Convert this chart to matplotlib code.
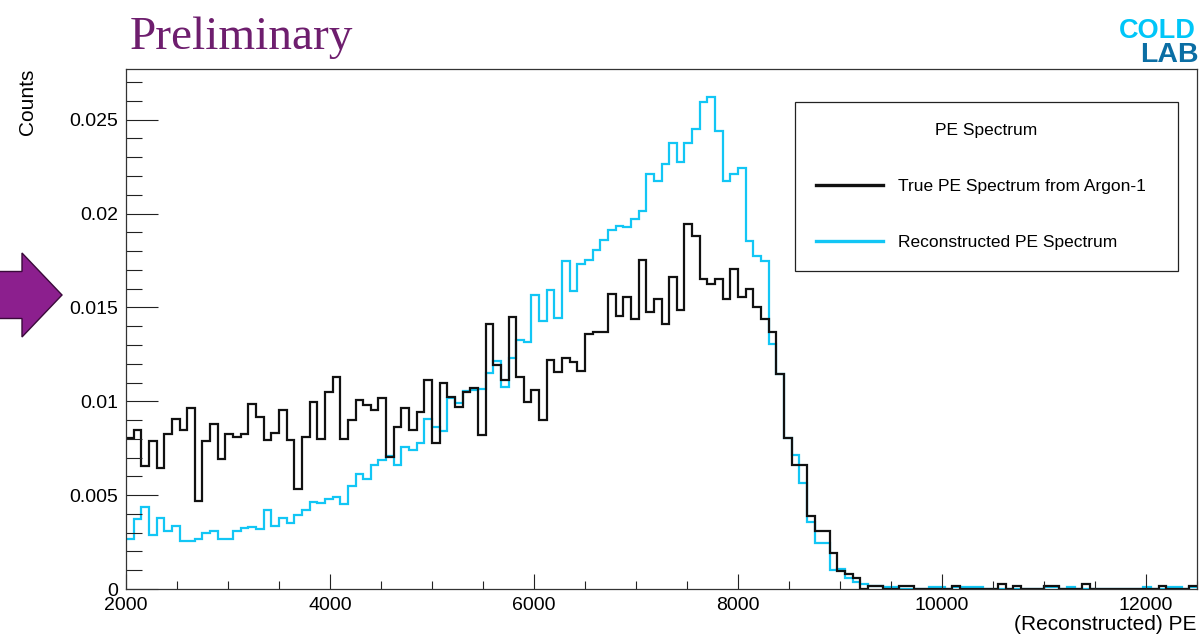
import numpy as np
import matplotlib
matplotlib.use("Agg")
import matplotlib.pyplot as plt
from matplotlib.lines import Line2D
from matplotlib.patches import FancyArrow
from matplotlib.transforms import IdentityTransform
from matplotlib.ticker import MultipleLocator, FuncFormatter

plt.rcParams["font.family"] = ["Liberation Sans", "DejaVu Sans"]

# ---------------------------------------------------------------------------
# data: 140 bins of 75 PE from 2000 to 12500
# ---------------------------------------------------------------------------
bin_lo, bin_hi, bin_w = 2000, 12500, 75

true_pe = [
    0.00803, 0.00849, 0.00655, 0.00786, 0.00646, 0.00825, 0.00904, 0.00849, 0.00962, 0.00467,
    0.00791, 0.00879, 0.00692, 0.00825, 0.00810, 0.00825, 0.00985, 0.00915, 0.00796, 0.00832,
    0.00955, 0.00796, 0.00534, 0.00812, 0.00994, 0.00798, 0.01047, 0.01127, 0.00798, 0.00900,
    0.01008, 0.00980, 0.00954, 0.01017, 0.00702, 0.00865, 0.00966, 0.00848, 0.00945, 0.01113,
    0.00779, 0.01099, 0.01024, 0.00968, 0.01051, 0.01071, 0.00821, 0.01410, 0.01193, 0.01113,
    0.01451, 0.01131, 0.00994, 0.01060, 0.00900, 0.01222, 0.01157, 0.01230, 0.01210, 0.01159,
    0.01360, 0.01369, 0.01369, 0.01571, 0.01452, 0.01557, 0.01437, 0.01755, 0.01478, 0.01543,
    0.01409, 0.01663, 0.01488, 0.01944, 0.01879, 0.01649, 0.01626, 0.01649, 0.01543, 0.01702,
    0.01557, 0.01596, 0.01502, 0.01437, 0.01370, 0.01145, 0.00805, 0.00660, 0.00660, 0.00389,
    0.00309, 0.00309, 0.00191, 0.00094, 0.00080, 0.00057, 0.00000, 0.00015, 0.00015, 0.00000,
    0.00000, 0.00015, 0.00015, 0.00000, 0.00000, 0.00000, 0.00000, 0.00000, 0.00015, 0.00000,
    0.00000, 0.00000, 0.00000, 0.00000, 0.00027, 0.00000, 0.00015, 0.00000, 0.00000, 0.00000,
    0.00015, 0.00015, 0.00000, 0.00000, 0.00000, 0.00027, 0.00000, 0.00000, 0.00000, 0.00000,
    0.00000, 0.00000, 0.00000, 0.00000, 0.00000, 0.00015, 0.00000, 0.00000, 0.00000, 0.00015,
]

reco_pe = [
    0.00269, 0.00375, 0.00437, 0.00287, 0.00379, 0.00311, 0.00333, 0.00257, 0.00257, 0.00269,
    0.00296, 0.00308, 0.00269, 0.00264, 0.00310, 0.00326, 0.00331, 0.00322, 0.00423, 0.00336,
    0.00379, 0.00350, 0.00394, 0.00419, 0.00463, 0.00458, 0.00478, 0.00490, 0.00455, 0.00547,
    0.00614, 0.00584, 0.00663, 0.00688, 0.00711, 0.00663, 0.00759, 0.00738, 0.00777, 0.00906,
    0.00865, 0.00844, 0.01017, 0.00989, 0.01055, 0.01060, 0.01068, 0.01153, 0.01213, 0.01077,
    0.01233, 0.01327, 0.01318, 0.01567, 0.01428, 0.01594, 0.01442, 0.01746, 0.01585, 0.01729,
    0.01750, 0.01805, 0.01857, 0.01912, 0.01934, 0.01928, 0.01973, 0.02015, 0.02210, 0.02175,
    0.02265, 0.02378, 0.02275, 0.02378, 0.02449, 0.02596, 0.02622, 0.02440, 0.02176, 0.02210,
    0.02245, 0.01856, 0.01773, 0.01745, 0.01304, 0.01145, 0.00805, 0.00715, 0.00564, 0.00357,
    0.00243, 0.00243, 0.00101, 0.00108, 0.00060, 0.00036, 0.00027, 0.00018, 0.00018, 0.00010,
    0.00010, 0.00000, 0.00000, 0.00000, 0.00000, 0.00010, 0.00010, 0.00000, 0.00010, 0.00010,
    0.00010, 0.00010, 0.00000, 0.00000, 0.00000, 0.00000, 0.00000, 0.00000, 0.00000, 0.00000,
    0.00010, 0.00010, 0.00000, 0.00010, 0.00000, 0.00000, 0.00000, 0.00000, 0.00000, 0.00000,
    0.00000, 0.00000, 0.00000, 0.00010, 0.00000, 0.00000, 0.00010, 0.00010, 0.00000, 0.00010,
]

legend_title = "PE Spectrum"
labels = ["True PE Spectrum from Argon-1", "Reconstructed PE Spectrum"]

BLACK = "#111111"
CYAN = "#12c6f5"

# ---------------------------------------------------------------------------
# figure
# ---------------------------------------------------------------------------
W, H = 1199, 634
fig = plt.figure(figsize=(W / 100, H / 100), dpi=100)
ax = fig.add_axes([126 / W, 1 - 589 / H, 1071 / W, 520 / H])

edges = np.arange(bin_lo, bin_hi + bin_w, bin_w)
ax.stairs(reco_pe, edges, baseline=None, color=CYAN, lw=1.6)
ax.stairs(true_pe, edges, baseline=None, color=BLACK, lw=1.6)

ax.set_xlim(bin_lo, bin_hi)
ax.set_ylim(0, 0.0277)

ax.xaxis.set_major_locator(MultipleLocator(2000))
ax.xaxis.set_minor_locator(MultipleLocator(500))
ax.yaxis.set_major_locator(MultipleLocator(0.005))
ax.yaxis.set_minor_locator(MultipleLocator(0.001))
ax.yaxis.set_major_formatter(FuncFormatter(lambda v, _: f"{v:g}"))

ax.tick_params(axis="both", which="both", direction="in", labelsize=14,
               width=0.8, color="#222222")
ax.tick_params(axis="y", which="major", length=23, pad=5.5)
ax.tick_params(axis="y", which="minor", length=11.5)
ax.tick_params(axis="x", which="major", length=11, pad=6)
ax.tick_params(axis="x", which="minor", length=5.5)
for s in ax.spines.values():
    s.set_linewidth(0.9)
    s.set_color("#333333")

fig.text(28 / W, 1 - 69 / H, "Counts", rotation=90, ha="center", va="top", fontsize=15)
fig.text(1197 / W, 1 - 625 / H, "(Reconstructed) PE", ha="right", va="center", fontsize=15)

# legend
handles = [Line2D([], [], color=BLACK, lw=2.4), Line2D([], [], color=CYAN, lw=2.4)]
leg = ax.legend(handles, labels, title=legend_title, loc="upper left",
                bbox_to_anchor=(795 / W, 1 - 102 / H, 383 / W, 0),
                bbox_transform=fig.transFigure, mode="expand", borderaxespad=0,
                fontsize=12.5, title_fontsize=12.5, frameon=True, fancybox=False,
                edgecolor="#222222", framealpha=1, handlelength=3.85,
                handletextpad=0.86, labelspacing=2.35, borderpad=1.2)
leg.get_frame().set_linewidth(0.9)

# decorations
fig.text(130 / W, 1 - 49 / H, "Preliminary", family="Liberation Serif",
         fontsize=34, color="#6e1e6e", ha="left", va="baseline")
fig.text(1196 / W, 1 - 38 / H, "COLD", fontsize=19.5, fontweight="bold",
         color="#00c6f8", ha="right", va="baseline")
fig.text(1199 / W, 1 - 62 / H, "LAB", fontsize=20.5, fontweight="bold",
         color="#0b6ea4", ha="right", va="baseline")

arrow = FancyArrow(-4, H - 295, 66, 0, width=47, head_width=84, head_length=40,
                   length_includes_head=True, transform=IdentityTransform(),
                   facecolor="#8c1f8e", edgecolor="#3a0a3a", lw=1.0)
fig.patches.append(arrow)

fig.savefig("out.png", dpi=100)
